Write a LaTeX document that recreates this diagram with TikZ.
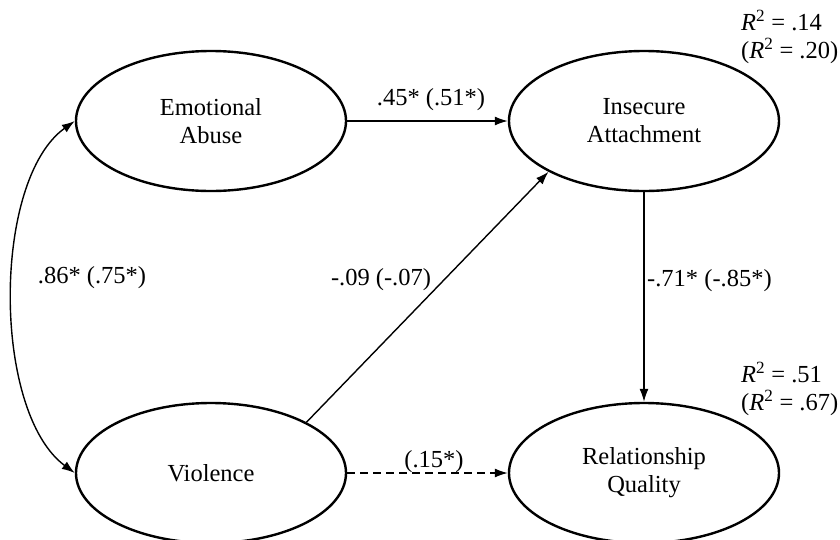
\documentclass[tikz,border=0pt]{standalone}
\usepackage{fontspec}
\setmainfont{Liberation Serif}
\usetikzlibrary{arrows.meta,shapes.geometric}
\begin{document}
\begin{tikzpicture}[x=1pt,y=-1pt,
  every node/.style={font=\fontsize{24.5}{28}\selectfont},
  latent/.style={ellipse,draw,line width=2.4pt,minimum width=270pt,minimum height=140pt,align=center,inner sep=0pt},
  path/.style={line width=1.4pt,-{Latex[length=13pt,width=9pt]}},
  both/.style={line width=1.4pt,{Latex[length=13pt,width=9pt]}-{Latex[length=13pt,width=9pt]}},
  coef/.style={inner sep=1pt},
  rsq/.style={align=left,inner sep=0pt,font=\fontsize{24.5}{27.5}\selectfont}
]
\useasboundingbox (0,0) rectangle (840,539);
\node[latent] (ea) at (211,121) {Emotional\\Abuse};
\node[latent] (ia) at (644,121) {Insecure\\Attachment};
\node[latent] (vi) at (211,473) {Violence};
\node[latent] (rq) at (644,473) {Relationship\\Quality};

\draw[path] (ea.east) -- (ia.west);
\draw[path] (vi.28) -- (ia.208);
\draw[path] (ia.south) -- (rq.north);
\draw[path,dash pattern=on 8pt off 5pt] (vi.east) -- (rq.west);
\draw[both] (ea.west) .. controls (-8,180) and (-8,412) .. (vi.west);

\node[coef] (l1) at (431,100) {.45* (.51*)};
\node[coef] (l2) at (381,280) {-.09 (-.07)};
\node[coef,anchor=west] (l3) at (646,281) {-.71* (-.85*)};
\node[coef] (l4) at (92,278) {.86* (.75*)};
\node[coef,anchor=south] (l5) at (434,474) {(.15*)};

\node[rsq,anchor=west] (r1) at (741,37) {\textit{R}\textsuperscript{2} = .14\\(\textit{R}\textsuperscript{2} = .20)};
\node[rsq,anchor=west] (r2) at (741,389) {\textit{R}\textsuperscript{2} = .51\\(\textit{R}\textsuperscript{2} = .67)};
\end{tikzpicture}
\end{document}
